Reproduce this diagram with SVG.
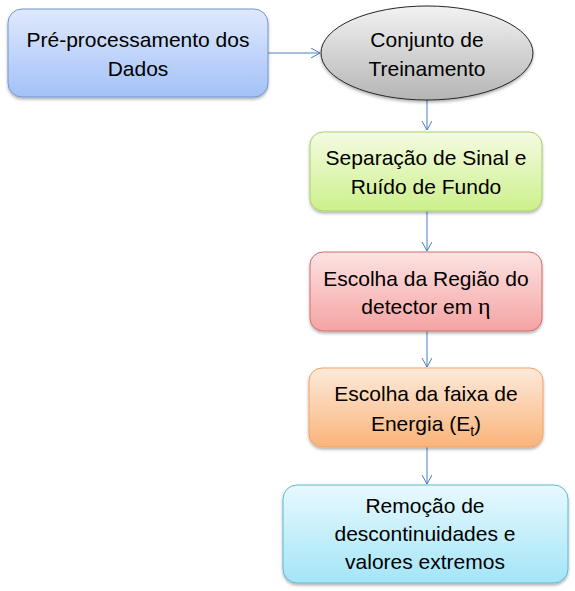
<svg xmlns="http://www.w3.org/2000/svg" width="575" height="591" viewBox="0 0 575 591">
<style>
text{font-family:"Liberation Sans",Arial,sans-serif;font-size:21px;fill:#000;text-anchor:middle}
.eta{font-family:"Liberation Serif","Times New Roman",serif;font-size:24px}
.edge{stroke:#4a7ebb;stroke-width:1;fill:none;marker-end:url(#arr)}
</style>
<defs>
<marker id="arr" markerWidth="12" markerHeight="12" refX="9" refY="5" orient="auto" markerUnits="userSpaceOnUse">
<path d="M0,0 L9,5 L0,10" fill="none" stroke="#4a7ebb" stroke-width="1"/>
</marker>
<filter id="sh" x="-10%" y="-10%" width="120%" height="130%">
<feDropShadow dx="0" dy="2" stdDeviation="1.5" flood-color="#000" flood-opacity="0.3"/>
</filter>
<linearGradient id="gBlue" x1="0" y1="0" x2="0" y2="1"><stop offset="0" stop-color="#dfe9fd"/><stop offset="1" stop-color="#a3c1f7"/></linearGradient>
<linearGradient id="gGray" x1="0" y1="0" x2="0" y2="1"><stop offset="0" stop-color="#f2f2f2"/><stop offset="1" stop-color="#b5b5b5"/></linearGradient>
<linearGradient id="gGreen" x1="0" y1="0" x2="0" y2="1"><stop offset="0" stop-color="#f4fbe1"/><stop offset="1" stop-color="#cdf08c"/></linearGradient>
<linearGradient id="gRed" x1="0" y1="0" x2="0" y2="1"><stop offset="0" stop-color="#fde3e3"/><stop offset="1" stop-color="#f5a3a3"/></linearGradient>
<linearGradient id="gOrange" x1="0" y1="0" x2="0" y2="1"><stop offset="0" stop-color="#fdeadb"/><stop offset="1" stop-color="#fab47a"/></linearGradient>
<linearGradient id="gCyan" x1="0" y1="0" x2="0" y2="1"><stop offset="0" stop-color="#e8f9fe"/><stop offset="1" stop-color="#a3e5f7"/></linearGradient>
</defs>
<g id="connectors">
<line class="edge" x1="268" y1="53" x2="320" y2="53"/>
<line class="edge" x1="427" y1="100" x2="427" y2="130"/>
<line class="edge" x1="427" y1="211" x2="427" y2="251"/>
<line class="edge" x1="427" y1="331" x2="427" y2="367"/>
<line class="edge" x1="427" y1="447" x2="427" y2="484"/>
</g>
<g id="preproc">
<rect x="8" y="9" width="260" height="88" rx="14" fill="url(#gBlue)" stroke="#7395cf" filter="url(#sh)"/>
<text x="138" y="47">Pré-processamento dos</text>
<text x="138" y="76">Dados</text>
</g>
<g id="conjunto">
<ellipse cx="427" cy="53" rx="106" ry="47" fill="url(#gGray)" stroke="#262626" filter="url(#sh)"/>
<text x="427" y="47">Conjunto de</text>
<text x="427" y="76">Treinamento</text>
</g>
<g id="separacao">
<rect x="310" y="132" width="232" height="79" rx="13" fill="url(#gGreen)" stroke="#a9cf6a" filter="url(#sh)"/>
<text x="426" y="165">Separação de Sinal e</text>
<text x="426" y="194">Ruído de Fundo</text>
</g>
<g id="regiao">
<rect x="310" y="252" width="232" height="79" rx="13" fill="url(#gRed)" stroke="#d16e6b" filter="url(#sh)"/>
<text x="426" y="286">Escolha da Região do</text>
<text x="426" y="314">detector em <tspan class="eta">η</tspan></text>
</g>
<g id="energia">
<rect x="309" y="368" width="234" height="79" rx="13" fill="url(#gOrange)" stroke="#f5a162" filter="url(#sh)"/>
<text x="426" y="401">Escolha da faixa de</text>
<text x="426" y="431">Energia (E<tspan font-size="14" dy="5">t</tspan><tspan dy="-5">)</tspan></text>
</g>
<g id="remocao">
<rect x="283" y="485" width="285" height="98" rx="14" fill="url(#gCyan)" stroke="#5fb7d0" filter="url(#sh)"/>
<text x="425" y="513">Remoção de</text>
<text x="425" y="541">descontinuidades e</text>
<text x="425" y="569">valores extremos</text>
</g>
</svg>
